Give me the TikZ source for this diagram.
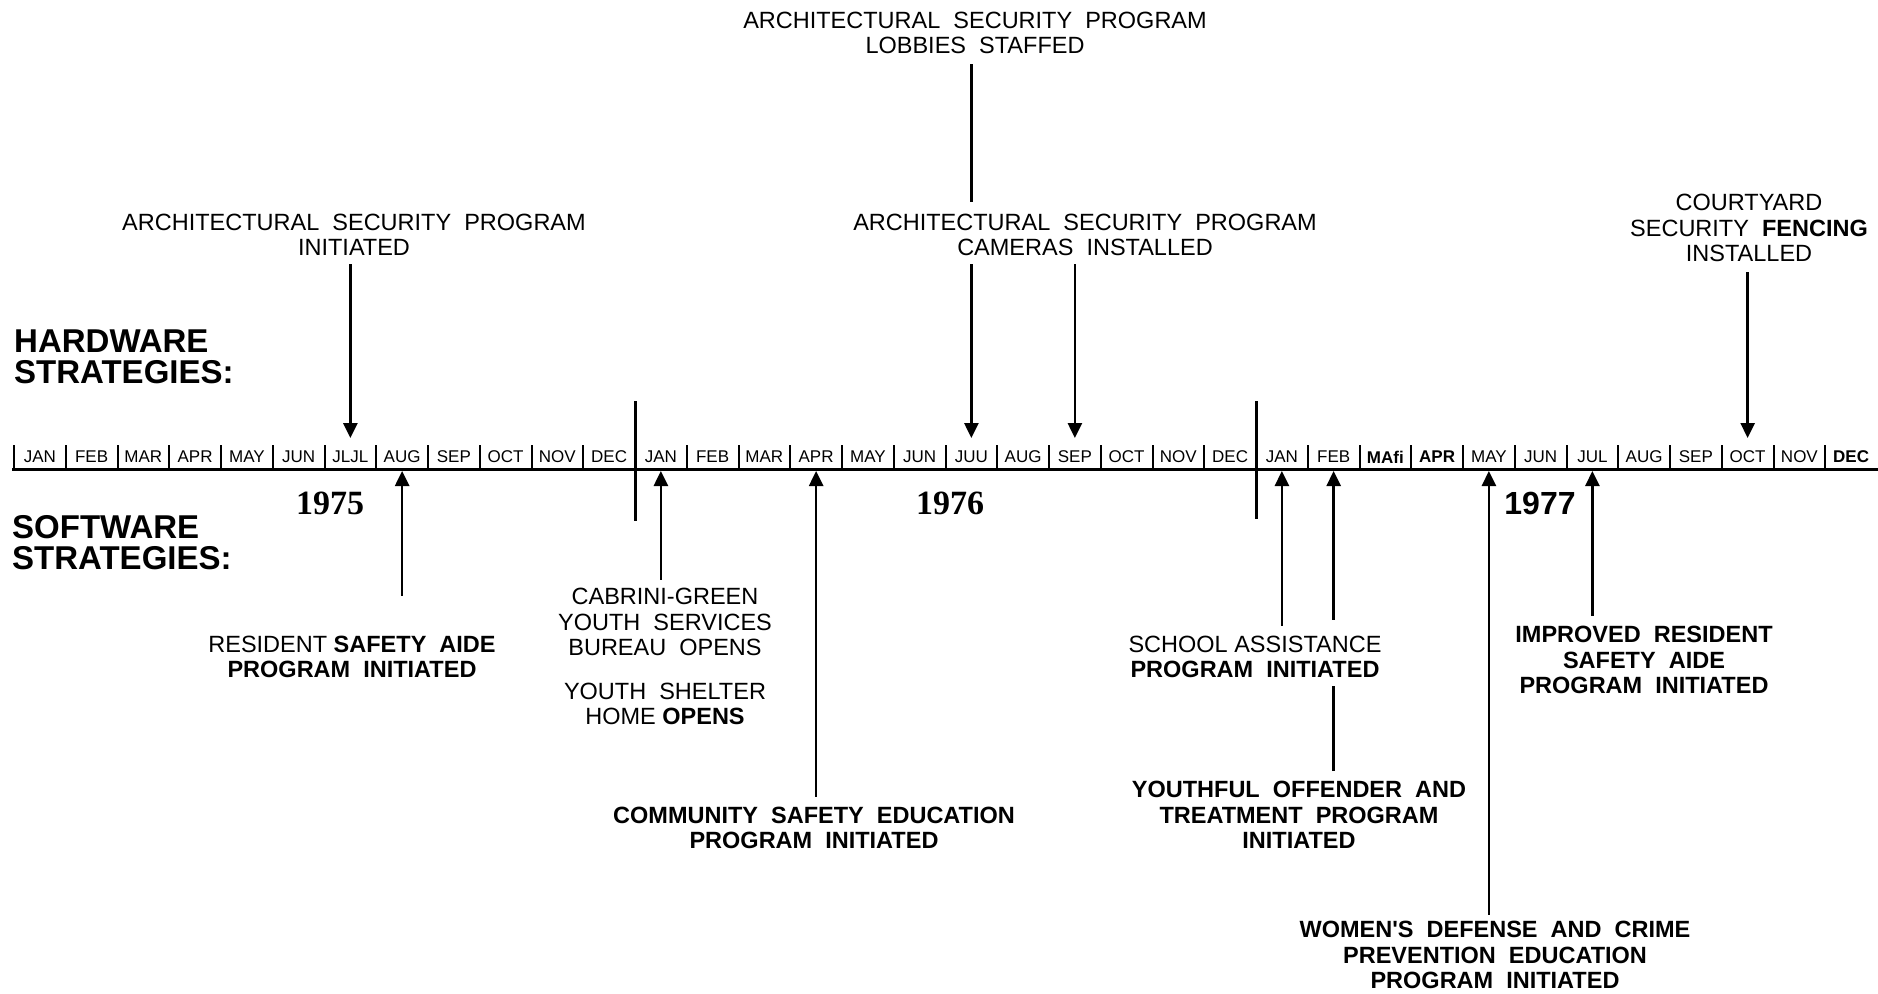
\documentclass[tikz,border=0pt]{standalone}
\usepackage{fontspec}
\setmainfont{Liberation Sans}
\newfontfamily\yearserif{Liberation Serif}
\newfontfamily\straightfont{Liberation Sans}
\usetikzlibrary{arrows.meta}
\begin{document}
\begin{tikzpicture}[x=1pt,y=-1pt,
  lab/.style={align=center,font=\fontsize{23.5}{25.5}\selectfont,inner sep=0pt},
  blab/.style={lab,font=\fontsize{23.5}{25.5}\selectfont\bfseries},
  mon/.style={font=\fontsize{17}{17}\selectfont,inner sep=0pt},
  side/.style={align=left,anchor=west,font=\fontsize{33}{31}\selectfont\bfseries,inner sep=0pt},
  yr/.style={font=\fontsize{34}{34}\selectfont\bfseries\yearserif,inner sep=0pt},
  arr/.style={line width=2.6pt,-{Triangle[width=14pt,length=15pt]}},
  ln/.style={line width=2.6pt},
  tickmark/.style={line width=2pt},
  divider/.style={line width=3pt}]
\useasboundingbox (0,0) rectangle (1878,993);
\fill[white] (0,0) rectangle (1878,993);

% axis
\coordinate (axL) at (12,469);
\coordinate (axR) at (1878,469);
\draw[line width=3pt] (axL) -- (axR);
\foreach \i in {0,...,35} {
  \draw[tickmark] (14+\i*51.75,445) -- (14+\i*51.75,469);
  \coordinate (t\i) at (14+\i*51.75+25.875,438);
  \coordinate (b\i) at (14+\i*51.75+25.875,471);
}
\foreach \n [count=\i from 0] in {JAN,FEB,MAR,APR,MAY,JUN,JLJL,AUG,SEP,OCT,NOV,DEC,
  JAN,FEB,MAR,APR,MAY,JUN,JUU,AUG,SEP,OCT,NOV,DEC,
  JAN,FEB,{\textbf{MAfi}},{\textbf{APR}},MAY,JUN,JUL,AUG,SEP,OCT,NOV,{\textbf{DEC}}} {
  \node[mon] (m\i) at (14+\i*51.75+25.875,457) {\n};
}
% year dividers
\coordinate (d1a) at (635,401); \coordinate (d1b) at (635,521);
\coordinate (d2a) at (1256,401); \coordinate (d2b) at (1256,519);
\draw[divider] (d1a) -- (d1b);
\draw[divider] (d2a) -- (d2b);

% years
\node[yr] (y75) at (330,503) {1975};
\node[yr] (y76) at (950,503) {1976};
\node[font=\fontsize{32}{32}\selectfont\bfseries,inner sep=0pt] (y77) at (1540,503) {1977};

% side headings
\node[side] (hw) at (14,357) {HARDWARE\\STRATEGIES:};
\node[side] (sw) at (12,543) {SOFTWARE\\STRATEGIES:};

% hardware events
\node[lab] (h1) at (354,235) {ARCHITECTURAL\ \ SECURITY\ \ PROGRAM\\INITIATED};
\draw[arr,shorten <=8pt] (h1.south -| t6) -- (t6);

\node[lab] (h2) at (975,33) {ARCHITECTURAL\ \ SECURITY\ \ PROGRAM\\LOBBIES\ \ STAFFED};
\node[lab] (h3) at (1085,235) {ARCHITECTURAL\ \ SECURITY\ \ PROGRAM\\CAMERAS\ \ INSTALLED};
\draw[ln,shorten <=10pt,shorten >=12pt] (h2.south -| t18) -- (h3.north -| t18);
\draw[arr,shorten <=8pt] (h3.south -| t18) -- (t18);
\draw[arr,shorten <=8pt] (h3.south -| t20) -- (t20);

\node[lab] (h4) at (1749,228) {COURTYARD\\SECURITY\ \ \textbf{FENCING}\\INSTALLED};
\draw[arr,shorten <=10pt] (h4.south -| t33) -- (t33);

% software events
\node[lab] (s1) at (352,657) {RESIDENT \textbf{SAFETY\ \ AIDE}\\\textbf{PROGRAM\ \ INITIATED}};
\draw[arr,shorten <=40pt] (s1.north -| b7) -- (b7);

\node[lab] (s2) at (665,622) {CABRINI-GREEN\\YOUTH\ \ SERVICES\\BUREAU\ \ OPENS};
\node[lab] (s2b) at (665,704) {YOUTH\ \ SHELTER\\HOME \textbf{OPENS}};
\draw[arr,shorten <=8pt] (s2.north -| b12) -- (b12);

\node[blab] (s3) at (814,828) {COMMUNITY\ \ SAFETY\ \ EDUCATION\\PROGRAM\ \ INITIATED};
\draw[arr,shorten <=10pt] (s3.north -| b15) -- (b15);

\node[lab] (s4) at (1255,657) {SCHOOL ASSISTANCE\\\textbf{PROGRAM\ \ INITIATED}};
\draw[arr,shorten <=10pt] (s4.north -| b24) -- (b24);

\node[blab] (s5) at (1299,815) {YOUTHFUL\ \ OFFENDER\ \ AND\\TREATMENT\ \ PROGRAM\\INITIATED};
\draw[ln,shorten <=10pt,shorten >=8pt] (s5.north -| b25) -- (s4.south -| b25);
\draw[arr,shorten <=16pt] (s4.north -| b25) -- (b25);

\node[blab] (s6) at (1495,955) {WOMEN{\straightfont\bfseries '}S\ \ DEFENSE\ \ AND\ \ CRIME\\PREVENTION\ \ EDUCATION\\PROGRAM\ \ INITIATED};
\draw[arr,shorten <=6pt] (s6.north -| b28) -- (b28);

\node[blab] (s7) at (1644,660) {IMPROVED\ \ RESIDENT\\SAFETY\ \ AIDE\\PROGRAM\ \ INITIATED};
\draw[arr,shorten <=10pt] (s7.north -| b30) -- (b30);
\end{tikzpicture}
\end{document}
